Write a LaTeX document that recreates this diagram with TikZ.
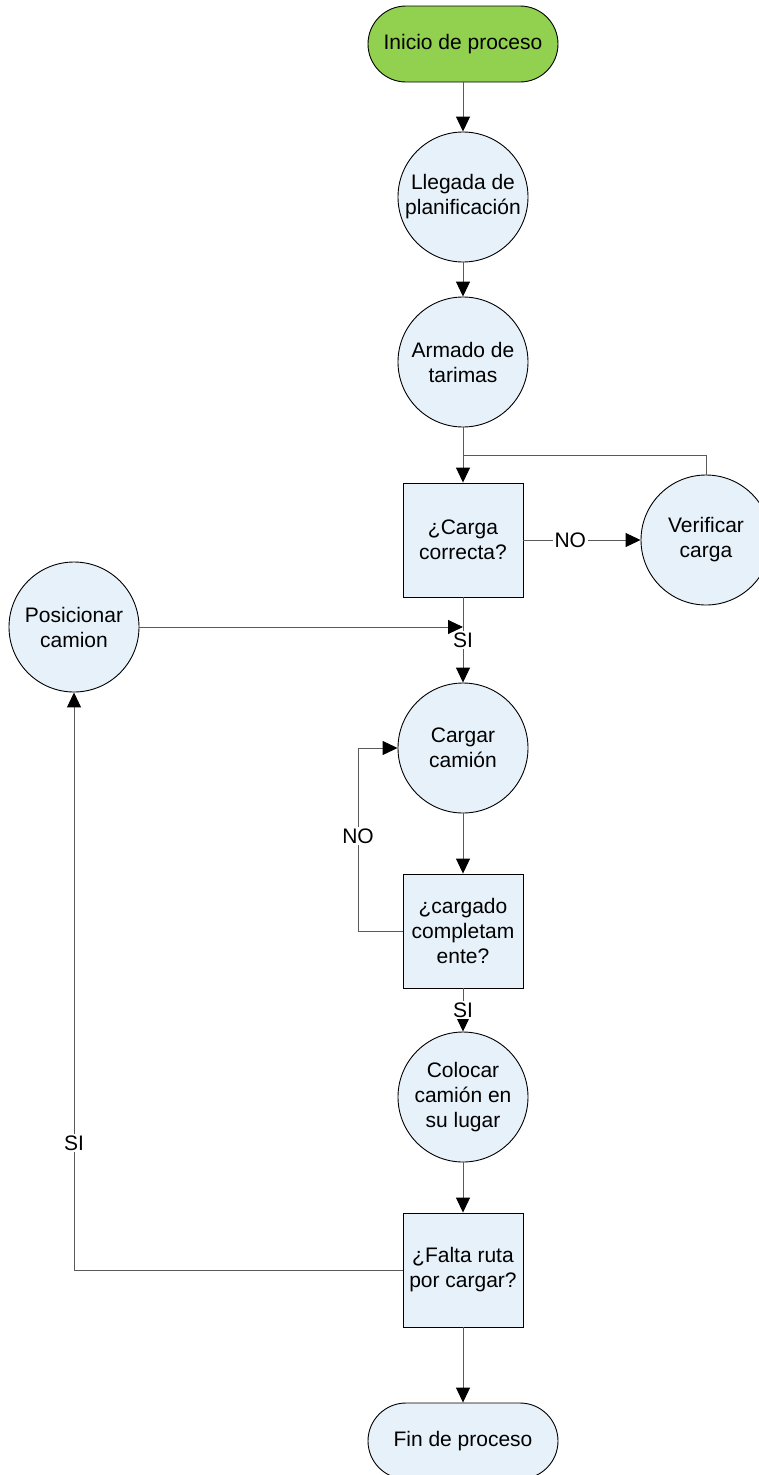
\documentclass[tikz,border=0pt]{standalone}
\usepackage{fontspec}
\setmainfont{Liberation Sans}
\usetikzlibrary{arrows.meta}
\definecolor{procfill}{RGB}{230,241,249}
\definecolor{startfill}{RGB}{146,208,80}
\definecolor{linegray}{RGB}{90,90,90}
\begin{document}
\begin{tikzpicture}[x=1pt,y=-1pt,
  every node/.style={font=\fontsize{21}{25}\selectfont, align=center},
  proc/.style={circle, draw=black, line width=0.9pt, fill=procfill, minimum size=130pt, inner sep=0pt},
  decision/.style={rectangle, draw=black, line width=0.9pt, fill=procfill, minimum width=120pt, minimum height=114pt, inner sep=0pt},
  terminal/.style={rectangle, rounded corners=38pt, draw=black, line width=0.9pt, minimum width=190pt, minimum height=76pt, inner sep=0pt},
  link/.style={draw=linegray, line width=1pt},
  arr/.style={link, -{Triangle[length=15pt,width=14pt,color=black]}},
  lbl/.style={fill=white, inner sep=1.5pt}
]
\clip (0,0) rectangle (759,1475);

% process steps
\node[terminal, fill=startfill] (start) at (463,44) {Inicio de proceso};
\node[proc] (llegada) at (463,197) {Llegada de\\planificación};
\node[proc] (armado) at (463,362) {Armado de\\tarimas};
\node[decision] (carga) at (463,540) {¿Carga\\correcta?};
\node[proc] (verificar) at (706,540) {Verificar\\carga};
\node[proc] (posicionar) at (74,627) {Posicionar\\camion};
\node[proc] (cargar) at (463,748) {Cargar\\camión};
\node[decision] (cargado) at (463,931) {¿cargado\\completam\\ente?};
\node[proc] (colocar) at (463,1097) {Colocar\\camión en\\su lugar};
\node[decision] (falta) at (463,1270) {¿Falta ruta\\por cargar?};
\node[terminal, fill=procfill] (fin) at (463,1441) {Fin de proceso};

% junction points of the loops
\coordinate (jtop) at (463,455);
\coordinate (jsi) at (463,627);
\coordinate (lno) at (358,0);
\coordinate (lsi) at (74,0);

% main flow
\draw[arr] (start) -- (llegada);
\draw[arr] (llegada) -- (armado);
\draw[arr] (armado) -- (carga);
\draw[arr] (carga) -- node[lbl, pos=0.4] {NO} (verificar);
\draw[link] (verificar.north) |- (jtop);
\draw[arr] (carga) -- node[lbl, pos=0.5] {SI} (cargar);
\draw[arr] (posicionar) -- (jsi);
\draw[arr] (cargar) -- (cargado);
\draw[arr] (cargado.west) -- (lno |- cargado.west)
  -- node[lbl, pos=0.52] {NO} (lno |- cargar.west) -- (cargar.west);
\draw[arr] (cargado) -- node[lbl, pos=0.5] {SI} (colocar);
\draw[arr] (colocar) -- (falta);
\draw[arr] (falta.west) -- (lsi |- falta.west)
  -- node[lbl, pos=0.22] {SI} (posicionar);
\draw[arr] (falta) -- (fin);
\end{tikzpicture}
\end{document}
